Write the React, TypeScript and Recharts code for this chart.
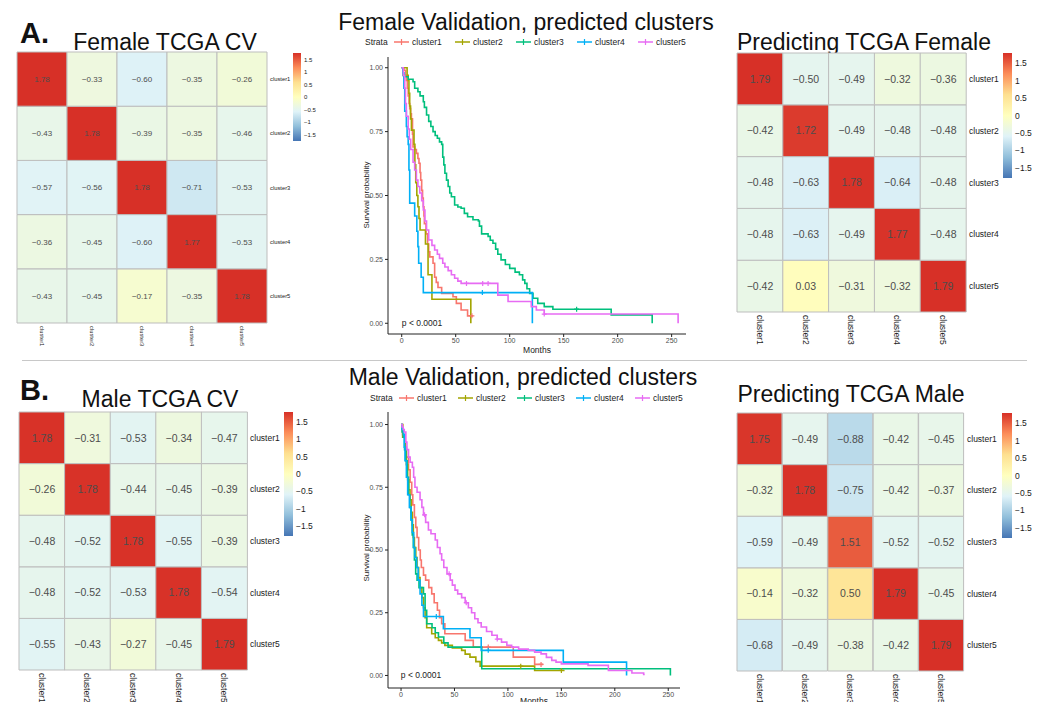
import React from "react";
import { BarChart, Bar, Cell, XAxis, YAxis, LabelList, LineChart, Line } from "recharts";

const FONT = '"Liberation Sans", Arial, Helvetica, sans-serif';

// heatmaps: rows cluster1..5, columns cluster1..5
const clusters = ["cluster1", "cluster2", "cluster3", "cluster4", "cluster5"];

const femaleCV = [
  [1.78, -0.33, -0.6, -0.35, -0.26],
  [-0.43, 1.78, -0.39, -0.35, -0.46],
  [-0.57, -0.56, 1.78, -0.71, -0.53],
  [-0.36, -0.45, -0.6, 1.77, -0.53],
  [-0.43, -0.45, -0.17, -0.35, 1.78],
];
const maleCV = [
  [1.78, -0.31, -0.53, -0.34, -0.47],
  [-0.26, 1.78, -0.44, -0.45, -0.39],
  [-0.48, -0.52, 1.78, -0.55, -0.39],
  [-0.48, -0.52, -0.53, 1.78, -0.54],
  [-0.55, -0.43, -0.27, -0.45, 1.79],
];
const predFemale = [
  [1.79, -0.5, -0.49, -0.32, -0.36],
  [-0.42, 1.72, -0.49, -0.48, -0.48],
  [-0.48, -0.63, 1.78, -0.64, -0.48],
  [-0.48, -0.63, -0.49, 1.77, -0.48],
  [-0.42, 0.03, -0.31, -0.32, 1.79],
];
const predMale = [
  [1.75, -0.49, -0.88, -0.42, -0.45],
  [-0.32, 1.78, -0.75, -0.42, -0.37],
  [-0.59, -0.49, 1.51, -0.52, -0.52],
  [-0.14, -0.32, 0.5, 1.79, -0.45],
  [-0.68, -0.49, -0.38, -0.42, 1.79],
];

const scaleTicks = [1.5, 1, 0.5, 0, -0.5, -1, -1.5];
const rampColors = ["#4575B4", "#91BFDB", "#E0F3F8", "#FFFFBF", "#FEE090", "#FC8D59", "#D73027"];

// survival curves
const monthTicks = [0, 50, 100, 150, 200, 250];
const survTicks = [0, 0.25, 0.5, 0.75, 1];
const strataColors = ["#F8766D", "#A3A500", "#00BF7D", "#00B0F6", "#E76BF3"];

// female validation, [months, survival]
const fCluster1: [number, number][] = [
  [0, 1], [2, 0.99], [3.5, 0.97], [4.3, 0.95], [5.2, 0.92], [6, 0.89], [6.8, 0.86], [7.4, 0.84],
  [8.2, 0.82], [9, 0.8], [10, 0.74], [10.5, 0.69], [12, 0.68], [13.6, 0.665], [15, 0.645], [16, 0.626],
  [17, 0.59], [17.6, 0.56], [18.5, 0.52], [19.3, 0.49], [20, 0.456], [20.6, 0.42], [21, 0.39],
  [22.5, 0.35], [24, 0.31], [25, 0.28], [26, 0.26], [29, 0.235], [30.5, 0.18], [32, 0.16],
  [33.6, 0.14], [37, 0.117], [47.5, 0.104], [50.6, 0.078], [55, 0.052], [61, 0.029], [66, 0.029],
];
const fCluster2: [number, number][] = [
  [0, 1], [5, 0.97], [6, 0.95], [6.7, 0.9], [7.4, 0.85], [8.2, 0.8], [9, 0.756], [11.4, 0.7],
  [12.2, 0.62], [13, 0.55], [14, 0.5], [15, 0.456], [16, 0.41], [17, 0.365], [22, 0.31],
  [24.4, 0.19], [28, 0.094], [64, 0],
];
const fCluster3: [number, number][] = [
  [0, 1], [1.2, 0.97], [2.8, 0.965], [6, 0.955], [10.5, 0.945], [12, 0.92], [15, 0.906], [17, 0.89],
  [20, 0.867], [21, 0.845], [23, 0.815], [25, 0.79], [27, 0.77], [29, 0.75], [31, 0.735], [33, 0.724],
  [35, 0.71], [37, 0.7], [38, 0.65], [39, 0.62], [40, 0.587], [41.5, 0.56], [43, 0.535], [44.5, 0.51],
  [46, 0.495], [49, 0.463], [52, 0.455], [55, 0.45], [58, 0.43], [61, 0.417], [66, 0.405], [71, 0.4],
  [72, 0.38], [74, 0.35], [80, 0.34], [82, 0.325], [84.5, 0.313], [87, 0.29], [89, 0.27], [92, 0.248],
  [96, 0.23], [100, 0.215], [105, 0.2], [109, 0.19], [112, 0.17], [114, 0.156], [116, 0.135],
  [118.5, 0.117], [121.6, 0.098], [126, 0.078], [132, 0.065], [140, 0.055], [194, 0.033], [232, 0],
];
const fCluster4: [number, number][] = [
  [0, 1], [1.2, 0.98], [2, 0.92], [2.8, 0.83], [4.3, 0.77], [5, 0.73], [6, 0.7], [6.7, 0.6],
  [7.4, 0.47], [12, 0.42], [14, 0.36], [15, 0.3], [15.7, 0.235], [18, 0.18], [20, 0.12], [121, 0],
];
const fCluster5: [number, number][] = [
  [0, 1], [1.5, 0.97], [2.8, 0.92], [3.5, 0.86], [4.3, 0.81], [6, 0.76], [7, 0.72], [8.3, 0.68],
  [10.5, 0.63], [12, 0.6], [13.6, 0.56], [15, 0.535], [16.7, 0.51], [18.5, 0.48], [20, 0.443],
  [21.5, 0.4], [23, 0.365], [25, 0.326], [28, 0.305], [30.5, 0.287], [33, 0.27], [35, 0.254],
  [38, 0.235], [40, 0.22], [43, 0.206], [46, 0.19], [49, 0.176], [52, 0.165], [55, 0.156],
  [89, 0.11], [98.5, 0.085], [120, 0.065], [124.7, 0.052], [132, 0.036], [256, 0],
];
const fCensored = [[65], [], [162], [74.7], [60, 75, 80, 132]];

// male validation, [months, survival]
const mCluster1: [number, number][] = [
  [0, 1], [1.5, 0.96], [3.7, 0.91], [5, 0.87], [7, 0.82], [8.5, 0.77], [10, 0.72], [11, 0.68],
  [12.5, 0.63], [13.8, 0.59], [15, 0.55], [16.5, 0.5], [18, 0.46], [19, 0.43], [21, 0.4], [23, 0.38],
  [26, 0.35], [28.7, 0.325], [31, 0.29], [34, 0.26], [36, 0.23], [38, 0.206], [41, 0.166],
  [60, 0.14], [67.6, 0.113], [105, 0.073], [125, 0.044], [133, 0.044],
];
const mCluster2: [number, number][] = [
  [0, 1], [1.5, 0.95], [3.7, 0.9], [5, 0.84], [6.2, 0.78], [7.3, 0.74], [8.4, 0.7], [9.5, 0.65],
  [10.6, 0.6], [11.5, 0.55], [12.5, 0.51], [13.8, 0.47], [15, 0.43], [16.5, 0.39], [17.8, 0.35],
  [19.5, 0.31], [21, 0.27], [22.5, 0.23], [24, 0.19], [28.7, 0.166], [32, 0.15], [35, 0.14],
  [38, 0.13], [41, 0.12], [48, 0.11], [56.7, 0.1], [60, 0.085], [64.5, 0.073], [70, 0.055],
  [74, 0.037], [125, 0.02], [153, 0.02],
];
const mCluster3: [number, number][] = [
  [0, 1], [1, 0.97], [2.2, 0.95], [3.3, 0.9], [4.4, 0.856], [5.7, 0.79], [7, 0.72], [8.2, 0.67],
  [9.4, 0.62], [10.5, 0.56], [11.5, 0.51], [12.5, 0.46], [13.7, 0.405], [15, 0.38], [16.8, 0.35],
  [21, 0.325], [22.5, 0.26], [24, 0.206], [29, 0.19], [32, 0.17], [35, 0.153], [40, 0.13],
  [44, 0.113], [75.5, 0.027], [252, 0],
];
const mCluster4: [number, number][] = [
  [0, 1], [1, 0.98], [2.2, 0.96], [3, 0.91], [3.7, 0.856], [5, 0.79], [6.2, 0.72], [7.8, 0.67],
  [9.4, 0.62], [10.5, 0.57], [11.8, 0.51], [13, 0.47], [14.6, 0.43], [16, 0.38], [17.8, 0.325],
  [19.5, 0.28], [21, 0.235], [39.6, 0.186], [64.5, 0.15], [75, 0.1], [151.8, 0.053], [211, 0],
];
const mCluster5: [number, number][] = [
  [0, 1], [1, 0.99], [2, 0.98], [3, 0.97], [4.5, 0.93], [5.5, 0.9], [7, 0.87], [8.5, 0.85],
  [10.6, 0.83], [11.8, 0.79], [13, 0.75], [15, 0.73], [17.8, 0.7], [19.5, 0.67], [21, 0.64],
  [23, 0.61], [25.6, 0.58], [28, 0.565], [32, 0.54], [34, 0.51], [36.5, 0.485], [38, 0.46],
  [40, 0.43], [43, 0.405], [46, 0.38], [48, 0.36], [50.5, 0.34], [53, 0.325], [56.7, 0.31],
  [60, 0.29], [63, 0.27], [66, 0.25], [69, 0.226], [72, 0.21], [75, 0.193], [80, 0.175], [85, 0.16],
  [90, 0.145], [94, 0.133], [99, 0.12], [103.5, 0.113], [110, 0.105], [119, 0.1], [125, 0.093],
  [131, 0.086], [136, 0.072], [141, 0.06], [145, 0.053], [150, 0.046], [175, 0.04], [194, 0.02],
  [216, 0.01], [227, 0.004], [228, 0.004],
];
const mCensored = [[81.6, 131], [112, 150], [], [33, 81.6], [22, 45, 61, 90]];

function hexRgb(h: string) {
  const n = parseInt(h.slice(1), 16);
  return [(n >> 16) & 255, (n >> 8) & 255, n & 255];
}

function heatColor(v: number, lim: number) {
  const t = Math.max(0, Math.min(1, (v + lim) / (2 * lim))) * (rampColors.length - 1);
  const i = Math.min(Math.floor(t), rampColors.length - 2);
  const f = t - i;
  const a = hexRgb(rampColors[i]);
  const b = hexRgb(rampColors[i + 1]);
  const c = a.map((x, k) => Math.round(x + (b[k] - x) * f));
  return `rgb(${c[0]},${c[1]},${c[2]})`;
}

const minus = (s: string) => s.replace("-", "\u2212");

const ColTick = (props: any) => {
  const { x, y, payload, size } = props;
  return (
    <text transform={`translate(${x - size * 0.36},${y}) rotate(90)`} fontSize={size} fill="#1a1a1a" textAnchor="start">
      {payload.value}
    </text>
  );
};

function Heatmap(props: any) {
  const { id, matrix, left, top, w, h, valueSize, labelSize, lim, leg } = props;
  const data = clusters.map((c, j) => {
    const d: Record<string, any> = { col: c };
    clusters.forEach((_, i) => {
      d[`r${i}`] = 1;
      d[`v${i}`] = matrix[i][j];
    });
    return d;
  });
  const stackOrder = [4, 3, 2, 1, 0];
  return (
    <>
      <div style={{ position: "absolute", left: left - 1, top: top - 1 }}>
        <BarChart width={w + 1 + 60} height={h + 1 + 50} data={data} margin={{ top: 1, left: 1, right: 0, bottom: 0 }} barCategoryGap={0} barGap={0}>
          <XAxis dataKey="col" height={50} axisLine={false} tickLine={false} tickSize={0} tickMargin={3} interval={0} tick={<ColTick size={labelSize} />} />
          <YAxis
            orientation="right"
            type="number"
            domain={[0, 5]}
            ticks={[0.5, 1.5, 2.5, 3.5, 4.5]}
            width={60}
            axisLine={false}
            tickLine={false}
            tickSize={0}
            tickMargin={3}
            tickFormatter={(v: number) => clusters[4 - Math.floor(v)]}
            tick={{ fontSize: labelSize, fill: "#1a1a1a" }}
          />
          {stackOrder.map((i) => (
            <Bar key={i} dataKey={`r${i}`} stackId="a" stroke="#BDBDBD" strokeWidth={1} isAnimationActive={false}>
              {data.map((d, j) => (
                <Cell key={j} fill={heatColor(d[`v${i}`], lim)} />
              ))}
              <LabelList dataKey={`v${i}`} position="center" fill="#4D4D4D" fontSize={valueSize} formatter={(v: any) => minus(Number(v).toFixed(2))} />
            </Bar>
          ))}
        </BarChart>
      </div>
      <div style={{ position: "absolute", left: leg.x, top: leg.y }}>
        <BarChart width={leg.w + 30} height={leg.h} data={[{ k: "s", r: [-lim, lim] }]} margin={{ top: 0, left: 0, right: 0, bottom: 0 }} barCategoryGap={0}>
          <XAxis dataKey="k" hide />
          <YAxis
            orientation="right"
            type="number"
            domain={[-lim, lim]}
            ticks={scaleTicks}
            width={30}
            axisLine={false}
            tickLine={false}
            tickSize={0}
            tickMargin={3}
            tickFormatter={(v: number) => minus(String(v))}
            tick={{ fontSize: leg.font, fill: "#1a1a1a" }}
          />
          <Bar dataKey="r" fill={`url(#${id})`} isAnimationActive={false} />
        </BarChart>
      </div>
    </>
  );
}

function kmPoints(steps: [number, number][], censor: number[]) {
  const pts = steps.map(([t, s]) => ({ t, s, c: false }));
  censor.forEach((ct) => {
    let s = steps[0][1];
    steps.forEach(([t, v]) => {
      if (t <= ct) s = v;
    });
    pts.push({ t: ct, s, c: true });
  });
  return pts.sort((a, b) => a.t - b.t);
}

const censorDot = (p: any, color: string) => {
  if (!p.payload || !p.payload.c) return <g key={p.index} />;
  return <path key={p.index} d={`M${p.cx - 2.5},${p.cy}H${p.cx + 2.5}M${p.cx},${p.cy - 2.5}V${p.cy + 2.5}`} stroke={color} strokeWidth={1.2} fill="none" />;
};

function KMPanel(props: any) {
  const { left, top, width, height, xDomain, yDomain, series } = props;
  return (
    <div style={{ position: "absolute", left, top }}>
      <LineChart width={width} height={height} margin={{ top: 7, right: 0, bottom: 0, left: 0 }}>
        <XAxis type="number" dataKey="t" domain={xDomain} ticks={monthTicks} allowDataOverflow height={25} stroke="#222" tickSize={3} tickMargin={1} tick={{ fontSize: 7, fill: "#4D4D4D" }} />
        <YAxis type="number" domain={yDomain} ticks={survTicks} allowDataOverflow width={48} stroke="#222" tickSize={3} tickMargin={2} tickFormatter={(v: number) => v.toFixed(2)} tick={{ fontSize: 7, fill: "#4D4D4D" }} />
        {series.map((d: any[], k: number) => (
          <Line
            key={k}
            data={d}
            dataKey="s"
            name={clusters[k]}
            type="stepAfter"
            stroke={strataColors[k]}
            strokeWidth={1.6}
            dot={(p: any) => censorDot(p, strataColors[k])}
            activeDot={false}
            isAnimationActive={false}
          />
        ))}
      </LineChart>
    </div>
  );
}

function StrataLegend({ left, top, step }: { left: number; top: number; step: number }) {
  return (
    <div style={{ position: "absolute", left, top, display: "flex", alignItems: "center", fontSize: 8.5, color: "#222", lineHeight: "10px" }}>
      <span style={{ width: 29 }}>Strata</span>
      {clusters.map((c, k) => (
        <span key={c} style={{ display: "flex", alignItems: "center", width: step }}>
          <svg width={15} height={8}>
            <line x1={0} y1={4} x2={15} y2={4} stroke={strataColors[k]} strokeWidth={1.5} />
            <line x1={7.5} y1={1} x2={7.5} y2={7} stroke={strataColors[k]} strokeWidth={1.2} />
          </svg>
          <span style={{ marginLeft: 3 }}>{c}</span>
        </span>
      ))}
    </div>
  );
}

const Title = ({ text, cx, top, size = 23, bold = false, left }: any) => (
  <div
    style={{
      position: "absolute",
      left: left !== undefined ? left : cx - 300,
      width: left !== undefined ? undefined : 600,
      top,
      textAlign: left !== undefined ? "left" : "center",
      fontSize: size,
      lineHeight: `${size}px`,
      fontWeight: bold ? 700 : 400,
      color: "#111",
      whiteSpace: "nowrap",
    }}
  >
    {text}
  </div>
);

const SmallText = ({ text, left, top, size = 8, rotate = false }: any) => (
  <div
    style={{
      position: "absolute",
      left,
      top,
      fontSize: size,
      lineHeight: `${size}px`,
      color: "#222",
      whiteSpace: "nowrap",
      transform: rotate ? "translate(-50%,-50%) rotate(-90deg)" : "translate(-50%,-50%)",
    }}
  >
    {text}
  </div>
);

export default function App() {
  const femaleSeries = [fCluster1, fCluster2, fCluster3, fCluster4, fCluster5].map((s, k) => kmPoints(s, fCensored[k]));
  const maleSeries = [mCluster1, mCluster2, mCluster3, mCluster4, mCluster5].map((s, k) => kmPoints(s, mCensored[k]));
  const gradIds = ["gTL", "gTR", "gBL", "gBR"];
  return (
    <div style={{ position: "absolute", left: 0, top: 0, width: 1041, height: 702, background: "#fff", overflow: "hidden", fontFamily: FONT }}>
      <svg width={0} height={0} style={{ position: "absolute" }}>
        <defs>
          {gradIds.map((g) => (
            <linearGradient key={g} id={g} x1="0" y1="1" x2="0" y2="0">
              {rampColors.map((c, i) => (
                <stop key={i} offset={`${(i / (rampColors.length - 1)) * 100}%`} stopColor={c} />
              ))}
            </linearGradient>
          ))}
        </defs>
      </svg>

      <Title text="A." left={20} top={19} size={29} bold />
      <Title text="Female TCGA CV" cx={165} top={31} />
      <Title text="Female Validation, predicted clusters" cx={526} top={11} />
      <Title text="Predicting TCGA Female" cx={864} top={31} />

      <Heatmap id="gTL" matrix={femaleCV} left={17} top={52} w={250} h={271} valueSize={8} labelSize={5.8} lim={1.76} leg={{ x: 293, y: 53, w: 8, h: 88, font: 6 }} />
      <Heatmap id="gTR" matrix={predFemale} left={737} top={53} w={229} h={259} valueSize={10.5} labelSize={8.5} lim={1.79} leg={{ x: 1003, y: 53, w: 9, h: 125, font: 8.5 }} />

      <StrataLegend left={365} top={37} step={61} />
      <KMPanel left={340} top={50} width={346} height={309} xDomain={[-12.7, 263.3]} yDomain={[-0.042, 1.042]} series={femaleSeries} />
      <SmallText text="Survival probability" left={367} top={195} size={8} rotate />
      <SmallText text="Months" left={537} top={350} size={8.5} />
      <SmallText text="p < 0.0001" left={422} top={323} size={8.5} />

      <div style={{ position: "absolute", left: 22, top: 360, width: 1005, height: 1, background: "#C8C8C8" }} />

      <Title text="B." left={20} top={376} size={29} bold />
      <Title text="Male TCGA CV" cx={160} top={388} />
      <Title text="Male Validation, predicted clusters" cx={523} top={366} />
      <Title text="Predicting TCGA Male" cx={851} top={383} />

      <Heatmap id="gBL" matrix={maleCV} left={19} top={412} w={228} h={258} valueSize={10.5} labelSize={8.5} lim={1.79} leg={{ x: 284, y: 412, w: 9, h: 124, font: 8.5 }} />
      <Heatmap id="gBR" matrix={predMale} left={737} top={413} w={227} h={258} valueSize={10.5} labelSize={8.5} lim={1.79} leg={{ x: 1002, y: 413, w: 10, h: 125, font: 8.5 }} />

      <StrataLegend left={370} top={393} step={59} />
      <KMPanel left={340} top={405} width={340} height={308} xDomain={[-12.2, 261]} yDomain={[-0.05, 1.05]} series={maleSeries} />
      <SmallText text="Survival probability" left={367} top={548} size={8} rotate />
      <SmallText text="Months" left={534} top={701} size={8.5} />
      <SmallText text="p < 0.0001" left={421} top={675} size={8.5} />
    </div>
  );
}
